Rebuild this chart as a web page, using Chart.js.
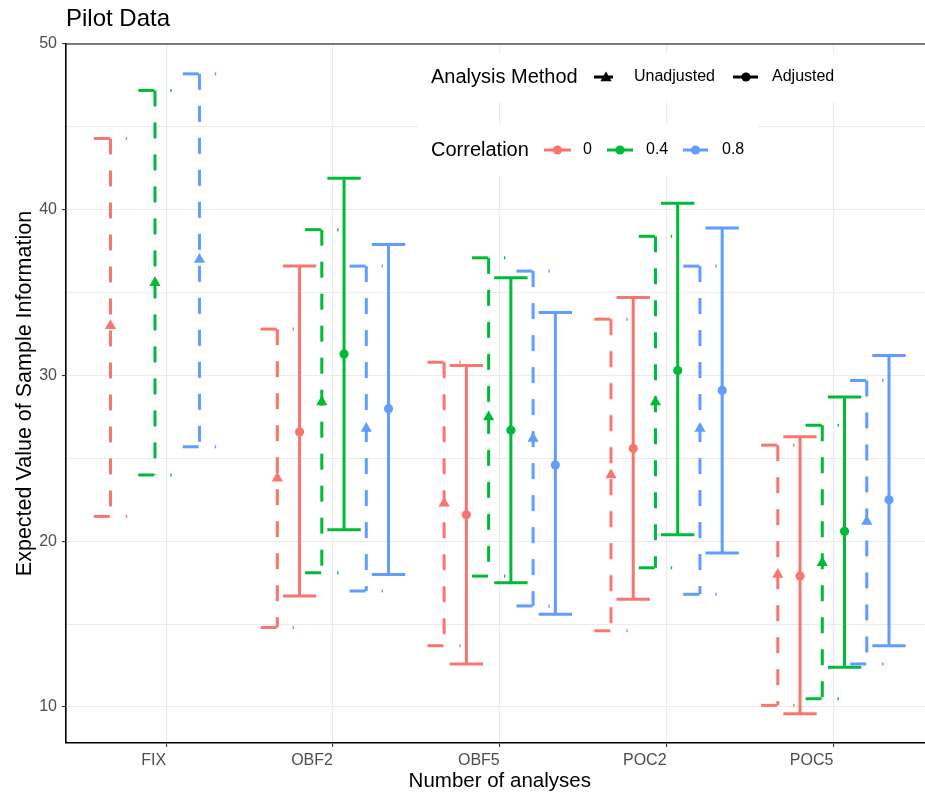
<!DOCTYPE html>
<html><head><meta charset="utf-8">
<script src="https://cdn.jsdelivr.net/npm/chart.js@4"></script>
<style>html,body{margin:0;padding:0;background:#fff;overflow:hidden}</style>
</head><body>
<div style="width:925px;height:798px;position:relative;overflow:hidden"><canvas id="c" width="940" height="798"></canvas></div>
<script>
// ---- data ----
const categories = ['FIX', 'OBF2', 'OBF5', 'POC2', 'POC5'];
const correlations = ['0', '0.4', '0.8'];
const methods = ['Unadjusted', 'Adjusted'];
const yTicks = [10, 20, 30, 40, 50];

// Unadjusted
const est0U = [33.0, 23.8, 22.3, 24.0, 18.0];
const lo0U  = [21.5, 14.8, 13.7, 14.6, 10.1];
const hi0U  = [44.3, 32.8, 30.8, 33.4, 25.8];
const est4U = [35.6, 28.4, 27.5, 28.4, 18.7];
const lo4U  = [24.0, 18.1, 17.9, 18.4, 10.5];
const hi4U  = [47.2, 38.8, 37.1, 38.4, 27.0];
const est8U = [37.0, 26.8, 26.2, 26.8, 21.2];
const lo8U  = [25.7, 17.0, 16.1, 16.8, 12.6];
const hi8U  = [48.2, 36.6, 36.3, 36.6, 29.7];
// Adjusted (not available for FIX)
const est0A = [null, 26.6, 21.6, 25.6, 17.9];
const lo0A  = [null, 16.7, 12.6, 16.5, 9.6];
const hi0A  = [null, 36.6, 30.6, 34.7, 26.3];
const est4A = [null, 31.3, 26.7, 30.3, 20.6];
const lo4A  = [null, 20.7, 17.5, 20.4, 12.4];
const hi4A  = [null, 41.9, 35.9, 40.4, 28.7];
const est8A = [null, 28.0, 24.6, 29.1, 22.5];
const lo8A  = [null, 18.0, 15.6, 19.3, 13.7];
const hi8A  = [null, 37.9, 33.8, 38.9, 31.2];

// ---- styling ----
const colors = ['#F8766D', '#00BA38', '#619CFF'];
const FONT = "'Liberation Sans', Arial, Helvetica, sans-serif";
const DODGE = 0.8, NSLOT = 6, CAPW = 0.2;

const series = [
  {corr: 0, method: 0, est: est0U, lo: lo0U, hi: hi0U},
  {corr: 0, method: 1, est: est0A, lo: lo0A, hi: hi0A},
  {corr: 1, method: 0, est: est4U, lo: lo4U, hi: hi4U},
  {corr: 1, method: 1, est: est4A, lo: lo4A, hi: hi4A},
  {corr: 2, method: 0, est: est8U, lo: lo8U, hi: hi8U},
  {corr: 2, method: 1, est: est8A, lo: lo8A, hi: hi8A},
];

const datasets = series.map((s, k) => {
  const off = (k - (NSLOT - 1) / 2) * DODGE / NSLOT;
  return {
    label: correlations[s.corr] + ' ' + methods[s.method],
    data: categories.map((c, i) => ({x: i + 1 + off, y: s.est[i]})).filter(p => p.y !== null),
    lo: s.lo, hi: s.hi, off: off, dashed: s.method === 0,
    backgroundColor: colors[s.corr], borderColor: colors[s.corr], borderWidth: 0,
    pointStyle: s.method === 0 ? 'triangle' : 'circle',
    pointRadius: s.method === 0 ? 6.5 : 4.6,
    pointHoverRadius: s.method === 0 ? 6.5 : 4.6,
  };
});

const errorBars = {
  id: 'errorBars',
  beforeDatasetsDraw(chart) {
    const ctx = chart.ctx, xs = chart.scales.x, ys = chart.scales.y;
    chart.data.datasets.forEach(ds => {
      ctx.save();
      ctx.strokeStyle = ds.borderColor;
      ctx.lineWidth = 3;
      ctx.lineCap = 'butt';
      ctx.setLineDash(ds.dashed ? [16, 16] : []);
      ctx.lineDashOffset = 0;
      const seg = (x1, y1, x2, y2) => { ctx.beginPath(); ctx.moveTo(x1, y1); ctx.lineTo(x2, y2); ctx.stroke(); };
      categories.forEach((c, i) => {
        if (ds.lo[i] === null || ds.hi[i] === null) return;
        const xv = i + 1 + ds.off;
        const x = xs.getPixelForValue(xv), xl = xs.getPixelForValue(xv - CAPW / 2), xr = xs.getPixelForValue(xv + CAPW / 2);
        const yh = ys.getPixelForValue(ds.hi[i]), yl = ys.getPixelForValue(ds.lo[i]);
        seg(xl, yh, xr, yh);
        seg(x, yh, x, yl);
        seg(xl, yl, xr, yl);
      });
      ctx.restore();
    });
  }
};

function tri(ctx, x, y, r) {
  const a = 2 * Math.PI / 3;
  ctx.beginPath();
  ctx.moveTo(x, y - r);
  ctx.lineTo(x + Math.sin(a) * r, y - Math.cos(a) * r);
  ctx.lineTo(x + Math.sin(2 * a) * r, y - Math.cos(2 * a) * r);
  ctx.closePath(); ctx.fill();
}
function dot(ctx, x, y, r) { ctx.beginPath(); ctx.arc(x, y, r, 0, 2 * Math.PI); ctx.fill(); }

const decor = {
  id: 'decor',
  afterDraw(chart) {
    const ctx = chart.ctx, a = chart.chartArea;
    ctx.save();
    // top border
    ctx.strokeStyle = '#000'; ctx.lineWidth = 1.2;
    ctx.beginPath(); ctx.moveTo(a.left, a.top); ctx.lineTo(a.right, a.top); ctx.stroke();
    // title
    ctx.fillStyle = '#000'; ctx.font = '24px ' + FONT; ctx.textBaseline = 'middle'; ctx.textAlign = 'left';
    ctx.fillText('Pilot Data', 66, 19);
    // legend boxes
    ctx.fillStyle = '#fff';
    ctx.fillRect(418, 54, 432, 48);
    ctx.fillRect(418, 124, 340, 51);
    // legend 1
    ctx.fillStyle = '#000'; ctx.font = '20px ' + FONT;
    ctx.fillText('Analysis Method', 431, 77);
    ctx.strokeStyle = '#000'; ctx.lineWidth = 3;
    ctx.beginPath(); ctx.moveTo(594, 77); ctx.lineTo(613, 77); ctx.stroke();
    tri(ctx, 606, 78, 6.5);
    ctx.beginPath(); ctx.moveTo(733, 77); ctx.lineTo(758, 77); ctx.stroke();
    dot(ctx, 746, 77, 4.6);
    ctx.font = '16px ' + FONT;
    ctx.fillText(methods[0], 634, 77);
    ctx.fillText(methods[1], 772, 77);
    // legend 2
    ctx.font = '20px ' + FONT;
    ctx.fillText('Correlation', 431, 150);
    const kx = [[544, 571, 583], [607, 633, 646], [683, 708, 722]];
    correlations.forEach((lab, i) => {
      ctx.strokeStyle = colors[i]; ctx.fillStyle = colors[i];
      ctx.beginPath(); ctx.moveTo(kx[i][0], 150); ctx.lineTo(kx[i][1], 150); ctx.stroke();
      dot(ctx, (kx[i][0] + kx[i][1]) / 2, 150, 4.6);
      ctx.fillStyle = '#000'; ctx.font = '16px ' + FONT;
      ctx.fillText(lab, kx[i][2], 150);
    });
    ctx.restore();
  }
};

new Chart(document.getElementById('c'), {
  type: 'scatter',
  data: {datasets: datasets},
  options: {
    responsive: false, animation: false, devicePixelRatio: 1,
    layout: {padding: {top: 44, right: 0, bottom: 0, left: 0}},
    plugins: {legend: {display: false}, tooltip: {enabled: false}},
    scales: {
      x: {
        type: 'linear', min: 0.4, max: 5.6,
        afterBuildTicks: s => { s.ticks = categories.map((c, i) => ({value: i + 1})); },
        afterFit: s => { s.height = 55; },
        ticks: {callback: v => categories[v - 1], align: 'end', color: '#4D4D4D', font: {family: FONT, size: 16}, padding: 4, maxRotation: 0},
        grid: {color: '#EBEBEB', lineWidth: 1.1, tickColor: '#333', tickLength: 4},
        border: {color: '#000', width: 1.6},
        title: {display: true, text: 'Number of analyses', color: '#000', font: {family: FONT, size: 20.5}, padding: {top: 0, bottom: 4}}
      },
      y: {
        type: 'linear', min: 7.83, max: 50,
        afterBuildTicks: s => { const t = []; for (let v = 10; v <= 50; v += 5) t.push({value: v}); s.ticks = t; },
        afterFit: s => { s.width = 66; },
        ticks: {callback: v => (yTicks.includes(v) ? String(v) : ''), color: '#4D4D4D', font: {family: FONT, size: 16}, padding: 5},
        grid: {color: '#EBEBEB', lineWidth: 1.1, tickLength: 4,
               tickColor: c => (c.tick && yTicks.includes(c.tick.value) ? '#333' : 'rgba(0,0,0,0)')},
        border: {color: '#000', width: 1.6},
        title: {display: true, text: 'Expected Value of Sample Information', color: '#000', font: {family: FONT, size: 21.5}, padding: {top: 12, bottom: 0}}
      }
    }
  },
  plugins: [errorBars, decor]
});
</script>
</body></html>
